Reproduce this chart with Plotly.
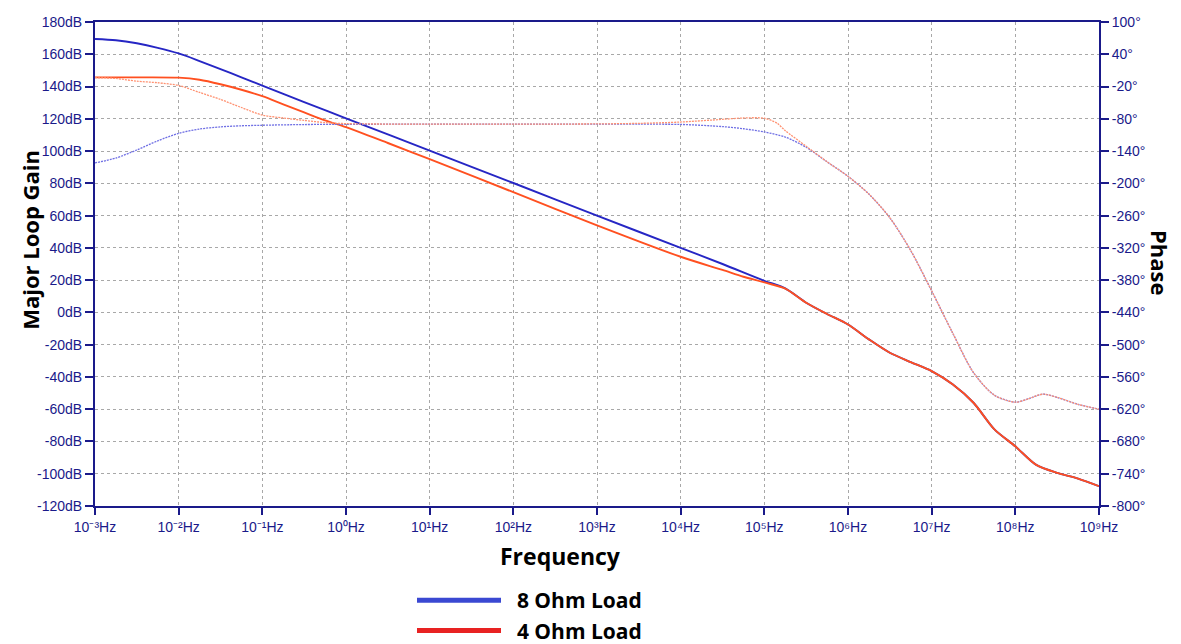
import plotly.graph_objects as go

# ---- data (log10 of frequency in Hz) ----
blue_gain_exp = [-3, -2.75, -2.5, -2.25, -2, -1.75, -1.5, -1.25, -1, -0.5, 0, 1, 2, 3, 4, 4.5, 5, 5.25, 5.5, 5.75, 6,
                 6.25, 6.5, 6.75, 7, 7.25, 7.5, 7.75, 8, 8.25, 8.5, 8.75, 9]
blue_gain_db = [169.5, 168.7, 166.8, 164, 160.5, 155.8, 150.8, 145.7, 140.6, 130.4, 120.3, 100.3, 80.2, 60, 40, 30, 19.6, 14.9, 6, -1, -7.5,
                -16.7, -25, -30.8, -36.4, -44.6, -56, -72.5, -83, -94.5, -99.5, -103, -107.7]

red_gain_exp = [-3, -2.5, -2, -1.75, -1.5, -1.25, -1, -0.75, -0.5, -0.25, 0, 0.5, 1, 2, 3, 4, 4.5, 4.75, 5, 5.25, 5.5, 5.75, 6,
                6.25, 6.5, 6.75, 7, 7.25, 7.5, 7.75, 8, 8.25, 8.5, 8.75, 9]
red_gain_db = [145.7, 145.7, 145.5, 144.2, 141.4, 138, 134, 129, 124, 119, 114.8, 105, 95, 74.5, 54, 34.5, 26.3, 22.1, 18.6, 14.7, 6, -1, -7.5,
               -16.7, -25, -30.8, -36.4, -44.6, -56, -72.5, -83, -94.5, -99.5, -103, -107.7]

blue_phase_exp = [-3, -2.75, -2.5, -2.25, -2, -1.75, -1.5, -1.25, -1, -0.5, 0, 1, 2, 3, 3.5, 4, 4.5, 4.75, 5, 5.25, 5.5, 5.75, 6,
                  6.25, 6.5, 6.75, 7, 7.25, 7.5, 7.75, 8, 8.15, 8.33, 8.5, 8.75, 9]
blue_phase_deg = [-162, -153, -138, -121, -107, -99, -95, -93, -92, -90.7, -90.2, -90, -90, -90, -90, -90.5, -94.5, -98.5, -104.5, -114, -133, -160, -187,
                  -220, -264, -325, -400, -478, -552, -594, -607, -601, -592, -598, -611, -620]

red_phase_exp = [-3, -2.75, -2.5, -2.25, -2, -1.75, -1.5, -1.25, -1, -0.75, -0.5, -0.25, 0, 1, 2, 3, 3.5, 4, 4.5, 4.75, 5, 5.15, 5.25, 5.5, 5.75, 6,
                 6.25, 6.5, 6.75, 7, 7.25, 7.5, 7.75, 8, 8.15, 8.33, 8.5, 8.75, 9]
red_phase_deg = [-3.5, -5, -10, -13, -18, -31, -44, -59, -73, -78.5, -83, -87, -89, -90, -90, -89.5, -88.5, -86, -81, -78.5, -79, -88, -102, -131, -160, -187,
                 -220, -264, -325, -400, -478, -552, -594, -607, -601, -592, -598, -611, -620]

gain_ticks = list(range(-120, 181, 20))
phase_ticks = list(range(-800, 101, 60))
freq_exps = list(range(-3, 10))
sup = {"-": "\u207b", "0": "\u2070", "1": "\u00b9", "2": "\u00b2", "3": "\u00b3", "4": "\u2074",
       "5": "\u2075", "6": "\u2076", "7": "\u2077", "8": "\u2078", "9": "\u2079"}
freq_labels = ["10" + "".join(sup[c] for c in str(e)) + "Hz" for e in freq_exps]

NAVY = "#1a1a8a"
BLUE = "#2626c4"
RED = "#ff5020"
BLUE_PH = "#7070e4"
RED_PH = "#ff9272"

def hz(exps):
    return [10 ** e for e in exps]

fig = go.Figure()
fig.add_trace(go.Scatter(x=hz(blue_phase_exp), y=blue_phase_deg, yaxis="y2", mode="lines",
                         line=dict(color=BLUE_PH, width=1.3, dash="2px,1px", shape="spline", smoothing=0.8), showlegend=False))
fig.add_trace(go.Scatter(x=hz(red_phase_exp), y=red_phase_deg, yaxis="y2", mode="lines",
                         line=dict(color=RED_PH, width=1.3, dash="2px,1px", shape="spline", smoothing=0.8), showlegend=False))
fig.add_trace(go.Scatter(x=hz(blue_gain_exp), y=blue_gain_db, mode="lines",
                         line=dict(color=BLUE, width=1.9, shape="spline", smoothing=0.8), showlegend=False))
fig.add_trace(go.Scatter(x=hz(red_gain_exp), y=red_gain_db, mode="lines",
                         line=dict(color=RED, width=1.9, shape="spline", smoothing=0.8), showlegend=False))
# legend entries
fig.add_trace(go.Scatter(x=[None], y=[None], mode="lines", name="\u00a0\u00a08 Ohm Load",
                         line=dict(color="#3a48d2", width=5)))
fig.add_trace(go.Scatter(x=[None], y=[None], mode="lines", name="\u00a0\u00a04 Ohm Load",
                         line=dict(color="#e82222", width=5)))

# the page body adds an 8px offset; figure is sized so the plot area lands at x 95..1099, y 22..506
W, H = 1173, 636
L, R, T, B = 87, 82, 14, 138
PW = W - L - R
tickfont = dict(family="Liberation Sans", size=14, color=NAVY)
fig.update_layout(
    width=W, height=H,
    margin=dict(l=L, r=R, t=T, b=B, autoexpand=False),
    paper_bgcolor="white", plot_bgcolor="white",
    xaxis=dict(type="log", range=[-3, 9], tickvals=hz(freq_exps), ticktext=freq_labels, automargin=False,
               tickfont=tickfont, showline=True, linecolor=NAVY, linewidth=2, mirror=True,
               ticks="outside", ticklen=7, tickcolor=NAVY, tickwidth=1.5,
               showgrid=True, gridcolor="#a8a8a8", griddash="dot", gridwidth=1,
               minor=dict(ticks="outside", ticklen=4, tickcolor=NAVY, tickwidth=1, showgrid=False),
               zeroline=False),
    yaxis=dict(range=[-120, 180], tickvals=gain_ticks, ticktext=[f"{v}dB" for v in gain_ticks], automargin=False,
               tickfont=tickfont, showline=True, linecolor=NAVY, linewidth=2,
               ticks="outside", ticklen=8, tickcolor=NAVY, tickwidth=2,
               showgrid=True, gridcolor="#a8a8a8", griddash="dot", gridwidth=1, zeroline=False),
    yaxis2=dict(range=[-800, 100], tickvals=phase_ticks, ticktext=[f"{v}°" for v in phase_ticks], automargin=False,
                overlaying="y", side="right", tickfont=tickfont, showline=True, linecolor=NAVY, linewidth=2,
                ticks="outside", ticklen=8, tickcolor=NAVY, tickwidth=2, showgrid=False, zeroline=False),
    legend=dict(x=(412 - 8) / W, y=1 - (580 - 8) / H, xref="container", yref="container",
                xanchor="left", yanchor="top", orientation="v",
                font=dict(family="Open Sans", size=21, color="black", weight="bold"),
                itemwidth=84, tracegroupgap=0, bgcolor="rgba(0,0,0,0)"),
    showlegend=True,
    annotations=[
        dict(text="<b>Frequency</b>", x=(560 - 8 - L) / PW, y=-0.103, xref="paper", yref="paper",
             showarrow=False, font=dict(family="Open Sans", size=23, color="black"),
             xanchor="center", yanchor="middle"),
        dict(text="<b>Major Loop Gain</b>", x=(30 - 8 - L) / PW, y=0.55, xref="paper", yref="paper",
             showarrow=False, textangle=-90, font=dict(family="Open Sans", size=22, color="black"),
             xanchor="center", yanchor="middle"),
        dict(text="<b>Phase</b>", x=(1160 - 8 - L) / PW, y=0.502, xref="paper", yref="paper",
             showarrow=False, textangle=90, font=dict(family="Open Sans", size=22, color="black"),
             xanchor="center", yanchor="middle"),
    ],
)

fig.write_html("out.html")
